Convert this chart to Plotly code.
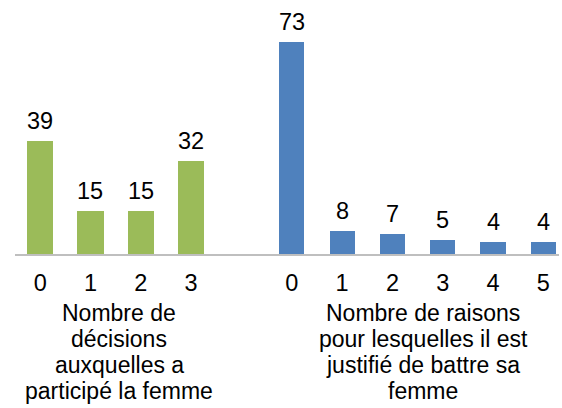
import plotly.graph_objects as go

# Women's participation in household decisions (share, %)
decision_cats = ["0", "1", "2", "3"]
decision_vals = [39, 15, 15, 32]

# Number of reasons for which wife-beating is considered justified (share, %)
reason_cats = ["0", "1", "2", "3", "4", "5"]
reason_vals = [73, 8, 7, 5, 4, 4]

decision_title = ["Nombre de", "décisions", "auxquelles a", "participé la femme"]
reason_title = ["Nombre de raisons", "pour lesquelles il est", "justifié de battre sa", "femme"]

GREEN = "#9BBB59"
BLUE = "#4F81BD"
FONT = "Liberation Sans, Arial, sans-serif"

# both groups share one axis, with an empty slot between them
decision_x = list(range(len(decision_cats)))
reason_x = [len(decision_cats) + 1 + i for i in range(len(reason_cats))]

W, H = 562, 408
ML, MR, MT, MB = 15, 3, 22, 154
plot_h = H - MT - MB

fig = go.Figure()
fig.add_trace(go.Bar(x=decision_x, y=decision_vals, width=0.52,
                     marker=dict(color=GREEN, line=dict(width=0)),
                     hoverinfo="skip"))
fig.add_trace(go.Bar(x=reason_x, y=reason_vals, width=0.5,
                     marker=dict(color=BLUE, line=dict(width=0)),
                     hoverinfo="skip"))

annotations = []
for xs, vs in ((decision_x, decision_vals), (reason_x, reason_vals)):
    for x, v in zip(xs, vs):
        annotations.append(dict(x=x, y=v, xref="x", yref="y", text=str(v),
                                showarrow=False, yanchor="bottom", yshift=5,
                                font=dict(family=FONT, size=23.5, color="#000000")))


def px_to_paper_y(py):
    return (H - MB - py) / plot_h


def add_title(lines, cx, first_center, step=25.9):
    # one annotation per line keeps the tight line spacing of the axis titles
    for i, line in enumerate(lines):
        annotations.append(dict(x=(cx - ML) / (W - ML - MR), xref="paper",
                                y=px_to_paper_y(first_center + i * step), yref="paper",
                                text=line, showarrow=False, xanchor="center",
                                yanchor="middle", borderpad=0,
                                font=dict(family=FONT, size=23, color="#000000")))


add_title(decision_title, 119, 313)
add_title(reason_title, 423, 313)

fig.update_layout(
    width=W, height=H,
    margin=dict(l=ML, r=MR, t=MT, b=MB),
    paper_bgcolor="white", plot_bgcolor="white",
    showlegend=False, bargap=0,
    annotations=annotations,
    xaxis=dict(range=[-0.5, 10.31], tickmode="array",
               tickvals=decision_x + reason_x,
               ticktext=decision_cats + reason_cats,
               showline=True, linecolor="#BFBFBF", linewidth=2,
               showgrid=False, zeroline=False,
               ticks="outside", ticklen=7, tickcolor="rgba(0,0,0,0)",
               tickfont=dict(family=FONT, size=23.5, color="#000000"),
               fixedrange=True),
    yaxis=dict(range=[0, 80], visible=False, showgrid=False, zeroline=False,
               fixedrange=True),
)

fig.write_html("out.html", config={"displayModeBar": False})
